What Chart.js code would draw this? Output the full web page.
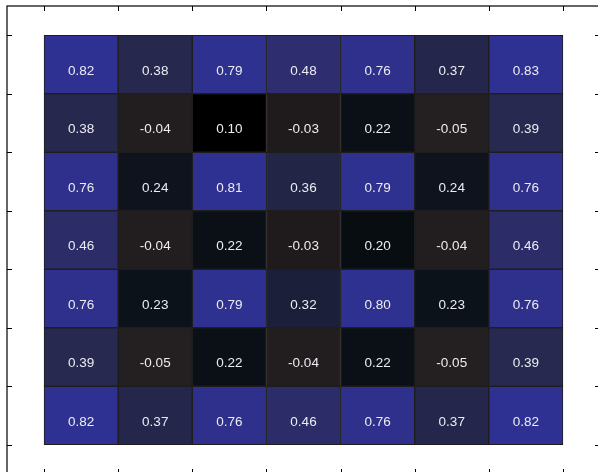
<!DOCTYPE html>
<html>
<head>
<meta charset="utf-8">
<script src="https://cdn.jsdelivr.net/npm/chart.js@4.4.1/dist/chart.umd.min.js"></script>
<style>
  html, body { margin: 0; padding: 0; background: #fff; }
  #wrap { width: 598px; height: 472px; overflow: hidden; position: relative; }
  canvas { display: block; }
</style>
</head>
<body>
<div id="wrap"><canvas id="myChart" width="600" height="474"></canvas></div>
<script>
// heatmap values, row by row (top to bottom)
const rows = [0, 1, 2, 3, 4, 5, 6];
const cols = [0, 1, 2, 3, 4, 5, 6];
const edges = [0, 1, 2, 3, 4, 5, 6, 7]; // tick marks sit on the cell edges
const row0 = [0.82, 0.38, 0.79, 0.48, 0.76, 0.37, 0.83];
const row1 = [0.38, -0.04, 0.10, -0.03, 0.22, -0.05, 0.39];
const row2 = [0.76, 0.24, 0.81, 0.36, 0.79, 0.24, 0.76];
const row3 = [0.46, -0.04, 0.22, -0.03, 0.20, -0.04, 0.46];
const row4 = [0.76, 0.23, 0.79, 0.32, 0.80, 0.23, 0.76];
const row5 = [0.39, -0.05, 0.22, -0.04, 0.22, -0.05, 0.39];
const row6 = [0.82, 0.37, 0.76, 0.46, 0.76, 0.37, 0.82];
const values = [row0, row1, row2, row3, row4, row5, row6];

// colour stops (value -> rgb)
const stops = [
  [-0.05, [36, 31, 32]],
  [0.10, [0, 0, 0]],
  [0.22, [10, 16, 22]],
  [0.32, [28, 31, 58]],
  [0.38, [38, 40, 78]],
  [0.48, [46, 45, 112]],
  [0.82, [46, 49, 146]]
];

function cellColor(v) {
  if (v <= stops[0][0]) return 'rgb(' + stops[0][1].join(',') + ')';
  for (let i = 1; i < stops.length; i++) {
    if (v <= stops[i][0]) {
      const a = stops[i - 1], b = stops[i];
      const t = (v - a[0]) / (b[0] - a[0]);
      const c = a[1].map((x, k) => Math.round(x + (b[1][k] - x) * t));
      return 'rgb(' + c.join(',') + ')';
    }
  }
  return 'rgb(' + stops[stops.length - 1][1].join(',') + ')';
}

const datasets = rows.map(r => ({
  label: 'row ' + r,
  data: cols.map(c => ({ x: c + 0.5, y: [r, r + 1], v: values[r][c] })),
  backgroundColor: cols.map(c => cellColor(values[r][c])),
  borderColor: '#1e1e1e',
  borderWidth: 1,
  borderSkipped: false,
  barPercentage: 1,
  categoryPercentage: 1,
  grouped: false
}));

// labels in each cell (sit a bit below the middle, like the original)
const cellText = {
  id: 'cellText',
  afterDatasetsDraw(chart) {
    const c = chart.ctx;
    c.save();
    c.fillStyle = '#ececf2';
    c.font = '13.5px "Liberation Sans", Arial, sans-serif';
    c.textAlign = 'center';
    c.textBaseline = 'middle';
    chart.data.datasets.forEach((ds, i) => {
      chart.getDatasetMeta(i).data.forEach((bar, j) => {
        const p = bar.getProps(['x', 'y', 'base'], true);
        c.fillText(ds.data[j].v.toFixed(2), p.x, (p.y + p.base) / 2 + 6.5);
      });
    });
    c.restore();
  }
};

// box round the axes and inward ticks on all 4 sides
const frame = {
  id: 'frame',
  afterDraw(chart) {
    const c = chart.ctx;
    const a = chart.chartArea;
    const xs = chart.scales.x, ys = chart.scales.y;
    c.save();
    c.strokeStyle = '#000';
    c.lineWidth = 1.2;
    c.strokeRect(a.left, a.top, a.right - a.left, a.bottom - a.top);
    c.lineWidth = 1;
    const len = 5;
    xs.ticks.forEach(t => {
      const px = Math.round(xs.getPixelForValue(t.value)) + 0.5;
      c.beginPath();
      c.moveTo(px, a.top); c.lineTo(px, a.top + len);
      c.moveTo(px, a.bottom); c.lineTo(px, a.bottom - len);
      c.stroke();
    });
    ys.ticks.forEach(t => {
      const py = Math.round(ys.getPixelForValue(t.value)) + 0.5;
      c.beginPath();
      c.moveTo(a.left, py); c.lineTo(a.left + len, py);
      c.moveTo(a.right, py); c.lineTo(a.right - len, py);
      c.stroke();
    });
    c.restore();
  }
};

const ctx = document.getElementById('myChart');

new Chart(ctx, {
  type: 'bar',
  data: { datasets: datasets },
  options: {
    responsive: false,
    animation: false,
    layout: { padding: { left: 7, top: 6, right: 0, bottom: 0 } },
    plugins: {
      legend: { display: false },
      tooltip: { enabled: false }
    },
    scales: {
      x: {
        type: 'linear',
        display: false,
        offset: false,
        min: -0.5,
        max: 7.5,
        afterBuildTicks: s => { s.ticks = edges.map(v => ({ value: v })); }
      },
      y: {
        type: 'linear',
        display: false,
        reverse: true,
        min: -0.5,
        max: 7.5,
        afterBuildTicks: s => { s.ticks = edges.map(v => ({ value: v })); }
      }
    }
  },
  plugins: [cellText, frame]
});
</script>
</body>
</html>
